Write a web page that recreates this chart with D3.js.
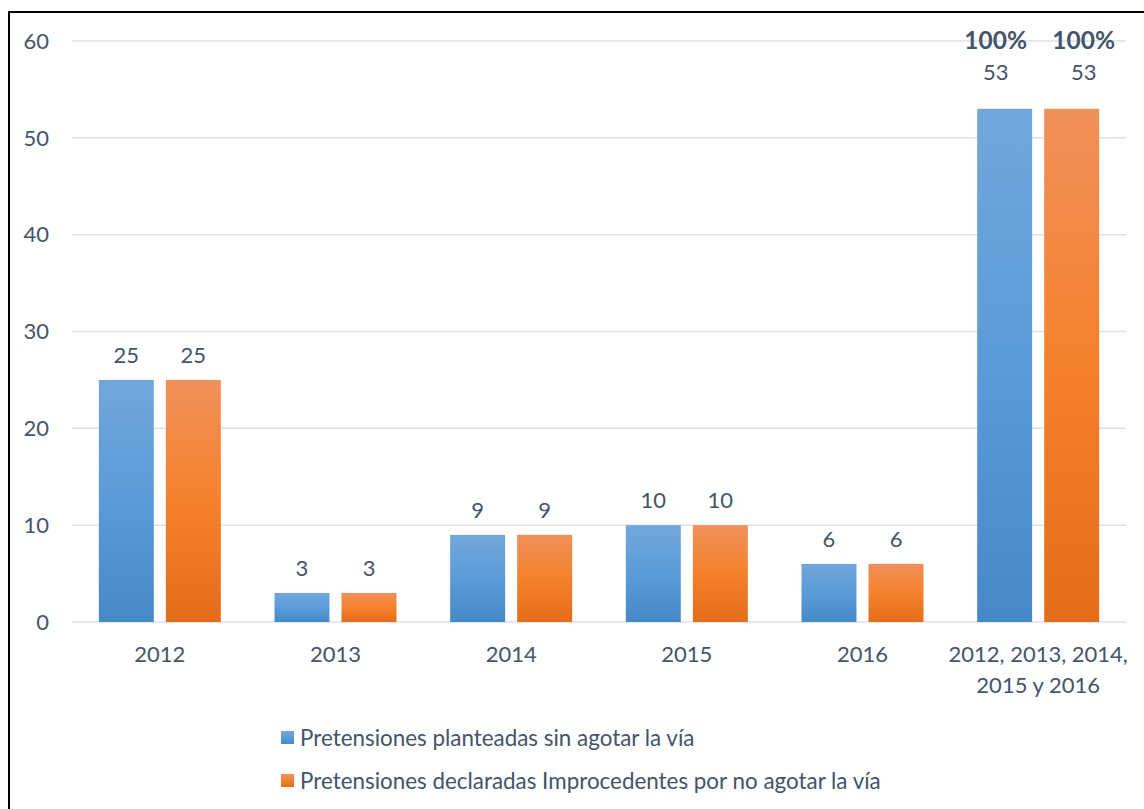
<!DOCTYPE html>
<html><head><meta charset="utf-8">
<script src="https://cdn.jsdelivr.net/npm/d3@7"></script>
<style>html,body{margin:0;padding:0;background:#fff;}svg{display:block;font-family:Lato,"Noto Sans",sans-serif;}</style>
</head><body>
<svg id="c" width="1144" height="809"></svg>
<script>
const categories = ["2012","2013","2014","2015","2016","2012, 2013, 2014,|2015 y 2016"];
const seriesNames = ["Pretensiones planteadas sin agotar la vía","Pretensiones declaradas Improcedentes por no agotar la vía"];
const planteadas = [25,3,9,10,6,53];
const improcedentes = [25,3,9,10,6,53];
const yTicks = [0,10,20,30,40,50,60];
const totalLabels = ["100%","100%"];

(function(){
const svg = d3.select("#c");
const textColor = "#44546A";
const fs = 22;
const plotLeft = 72, plotRight = 1126, plotTop = 41, plotBottom = 622;

svg.append("rect").attr("x",9).attr("y",12).attr("width",1200).attr("height",900)
  .attr("fill","none").attr("stroke","#000").attr("stroke-width",2);

const defs = svg.append("defs");
const gradBlue = defs.append("linearGradient").attr("id","gb").attr("x1",0).attr("y1",0).attr("x2",0).attr("y2",1);
gradBlue.append("stop").attr("offset","0%").attr("stop-color","#72A7DB");
gradBlue.append("stop").attr("offset","50%").attr("stop-color","#5A9BD8");
gradBlue.append("stop").attr("offset","100%").attr("stop-color","#4689C7");
const gradOr = defs.append("linearGradient").attr("id","go").attr("x1",0).attr("y1",0).attr("x2",0).attr("y2",1);
gradOr.append("stop").attr("offset","0%").attr("stop-color","#F0905A");
gradOr.append("stop").attr("offset","50%").attr("stop-color","#F5812C");
gradOr.append("stop").attr("offset","100%").attr("stop-color","#E46C1B");
const fills = ["url(#gb)","url(#go)"];

const x0 = d3.scaleBand().domain(categories).range([plotLeft,plotRight]).paddingInner(0.3055).paddingOuter(0.15275);
const x1 = d3.scaleBand().domain([0,1]).range([0,x0.bandwidth()]).paddingInner(0.18).paddingOuter(0);
const y = d3.scaleLinear().domain([0,60]).range([plotBottom,plotTop]);

svg.append("g").selectAll("line").data(yTicks).join("line")
  .attr("x1",plotLeft).attr("x2",plotRight).attr("y1",d=>y(d)).attr("y2",d=>y(d))
  .attr("stroke","#DDE1E6").attr("stroke-width",1.5);

svg.append("g").selectAll("text").data(yTicks).join("text")
  .attr("x",49).attr("y",d=>y(d)).attr("dy","0.35em").attr("text-anchor","end")
  .attr("font-size",fs).attr("fill",textColor).text(d=>d);

const series = [planteadas, improcedentes];
const lastIdx = categories.length-1;
const lastShift = [-9, 12];
series.forEach((vals,si)=>{
  const g = svg.append("g");
  g.selectAll("rect").data(categories).join("rect")
    .attr("x",(c)=>x0(c)+x1(si)).attr("width",x1.bandwidth())
    .attr("y",(c,i)=>y(vals[i])).attr("height",(c,i)=>y(0)-y(vals[i]))
    .attr("fill",fills[si]);
  g.selectAll("text").data(categories).join("text")
    .attr("x",(c,i)=>x0(c)+x1(si)+x1.bandwidth()/2+(i===lastIdx?lastShift[si]:0))
    .attr("y",(c,i)=>y(vals[i])-(i===lastIdx?36:25))
    .attr("dy","0.35em").attr("text-anchor","middle").attr("font-size",fs).attr("fill",textColor)
    .text((c,i)=>vals[i]);
});

const last = categories[lastIdx];
svg.append("g").selectAll("text").data(totalLabels).join("text")
  .attr("x",(d,i)=>x0(last)+x1(i)+x1.bandwidth()/2+lastShift[i]).attr("y",(d,i)=>y(series[i][lastIdx])-68)
  .attr("dy","0.35em").attr("text-anchor","middle").attr("font-size",24.5).attr("font-weight","bold")
  .attr("fill",textColor).text(d=>d);

const xl = svg.append("g");
categories.forEach(c=>{
  const lines = c.split("|");
  const t = xl.append("text").attr("x",x0(c)+x0.bandwidth()/2).attr("y",654).attr("text-anchor","middle")
    .attr("font-size",fs).attr("fill",textColor);
  lines.forEach((ln,k)=>{
    t.append("tspan").attr("x",x0(c)+x0.bandwidth()/2).attr("y",654+k*31).attr("dy","0.35em").text(ln);
  });
});

const leg = svg.append("g");
seriesNames.forEach((n,i)=>{
  const ly = 738 + i*43;
  leg.append("rect").attr("x",281).attr("y",ly-7).attr("width",13).attr("height",13).attr("fill",fills[i]);
  leg.append("text").attr("x",300).attr("y",ly).attr("dy","0.35em").attr("font-size",22.4)
    .attr("fill",textColor).text(n);
});
})();
</script>
</body></html>
